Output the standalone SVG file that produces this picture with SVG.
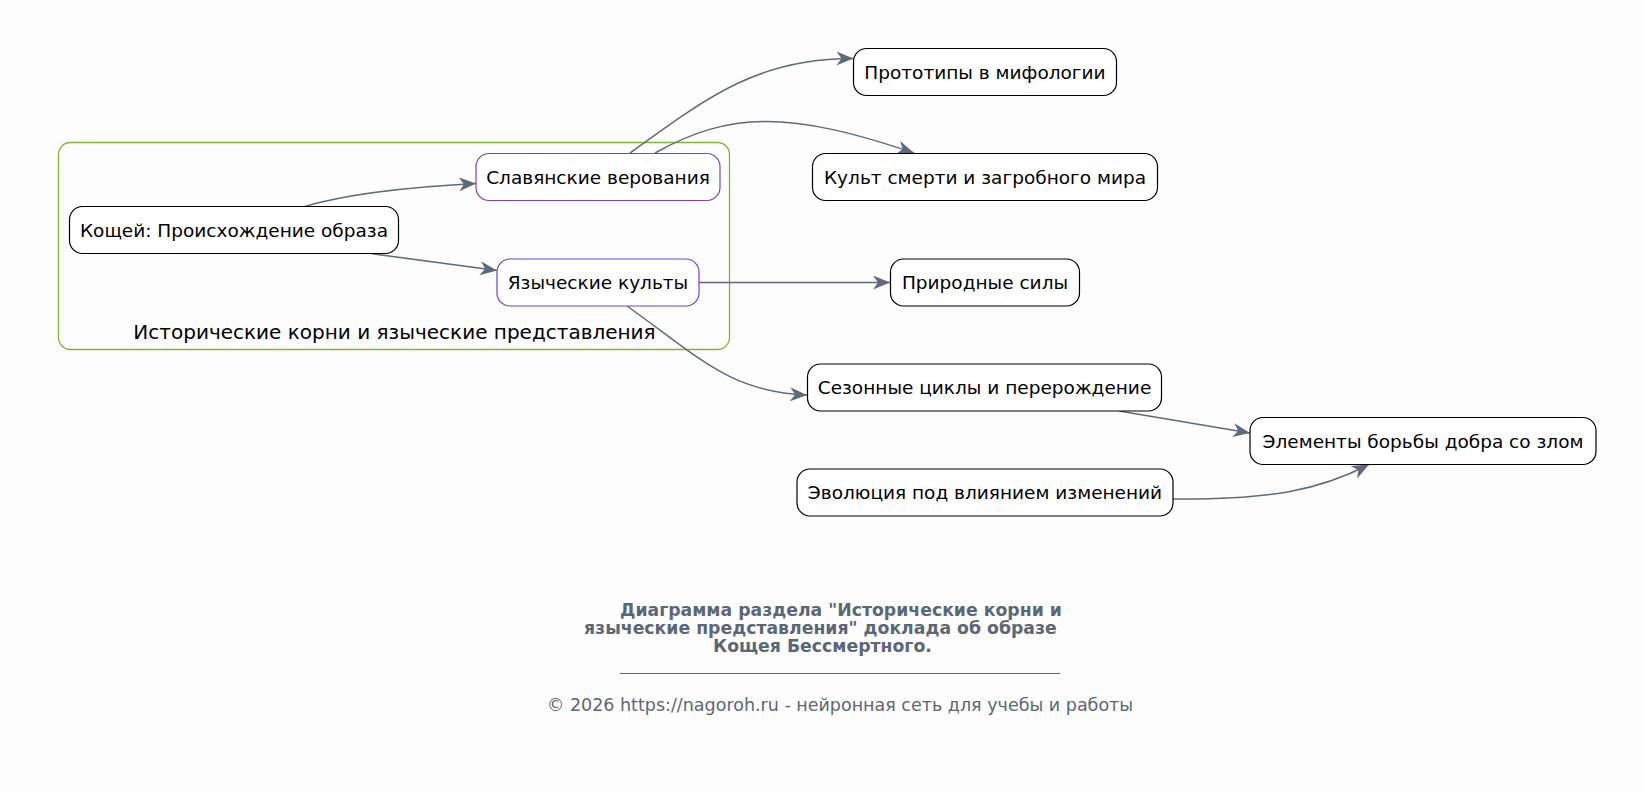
<svg xmlns="http://www.w3.org/2000/svg" width="1644" height="791" viewBox="0 0 1644 791">
<style>
.node rect{fill:#ffffff;stroke:#000000;stroke-width:1.2}
.node.sub rect{stroke:#7b3fc9}
.node text{font-family:"DejaVu Sans",sans-serif;font-size:18.5px;fill:#000000;text-anchor:middle}
.cl text{font-family:"DejaVu Sans",sans-serif;font-size:20px;fill:#000000;text-anchor:middle}
.edges path{fill:none;stroke:#5c6b7b;stroke-width:1.5;marker-end:url(#arr)}
.title{font-family:"DejaVu Sans",sans-serif;font-size:17.3px;font-weight:bold;fill:#5a6777}
.foot{font-family:"DejaVu Sans",sans-serif;font-size:17.5px;fill:#5a6777;text-anchor:middle}
</style>
<defs>
<marker id="arr" viewBox="0 0 18 14" refX="17" refY="7" markerWidth="18" markerHeight="14" markerUnits="userSpaceOnUse" orient="auto">
<path d="M0,0 L17,7 L0,14 L5,7 Z" fill="#5c6b7b"/>
</marker>
</defs>
<rect width="1644" height="791" fill="#fdfdfd"/>
<g id="cluster" class="cl">
<rect x="58.5" y="142.5" width="671" height="207" rx="12" fill="none" stroke="#82b536" stroke-width="1.3"/>
<text x="394.5" y="338.5">Исторические корни и языческие представления</text>
</g>
<g id="edges" class="edges">
<path d="M304,206.6 C340,196 390,188 476,183.5"/>
<path d="M372,253.7 L497,270.5"/>
<path d="M630,153 C710,95 760,58 853.5,58.5"/>
<path d="M655,153 C730,111 790,111 914,153"/>
<path d="M699,282.5 L890,282.5"/>
<path d="M627,306 C700,358 730,392 807,395"/>
<path d="M1119,411 L1250,433"/>
<path d="M1173,499 C1270,500 1320,490 1369,464.5"/>
</g>
<g id="n_koschei" class="node">
<rect x="69.5" y="206.5" width="329" height="47" rx="13"/>
<text x="234" y="236.5">Кощей: Происхождение образа</text>
</g>
<g id="n_slav" class="node sub">
<rect x="476" y="153.5" width="244" height="47" rx="13"/>
<text x="598" y="183.5">Славянские верования</text>
</g>
<g id="n_yaz" class="node sub">
<rect x="497" y="259" width="202" height="47" rx="13"/>
<text x="598" y="289">Языческие культы</text>
</g>
<g id="n_proto" class="node">
<rect x="853.5" y="48.5" width="263" height="47" rx="13"/>
<text x="985" y="78.5">Прототипы в мифологии</text>
</g>
<g id="n_kult" class="node">
<rect x="812.5" y="153.5" width="345" height="47" rx="13"/>
<text x="985" y="183.5">Культ смерти и загробного мира</text>
</g>
<g id="n_prir" class="node">
<rect x="890.5" y="259" width="189" height="47" rx="13"/>
<text x="985" y="289">Природные силы</text>
</g>
<g id="n_sez" class="node">
<rect x="807.5" y="364" width="354" height="47" rx="13"/>
<text x="984.5" y="394">Сезонные циклы и перерождение</text>
</g>
<g id="n_elem" class="node">
<rect x="1250" y="417.5" width="346" height="47" rx="13"/>
<text x="1423" y="447.5">Элементы борьбы добра со злом</text>
</g>
<g id="n_evol" class="node">
<rect x="797" y="469" width="376" height="47" rx="13"/>
<text x="985" y="499">Эволюция под влиянием изменений</text>
</g>
<g id="caption">
<text class="title" x="620" y="615.5">Диаграмма раздела "Исторические корни и</text>
<text class="title" x="584" y="633.5">языческие представления" доклада об образе</text>
<text class="title" x="713" y="651.5">Кощея Бессмертного.</text>
<line x1="620" y1="673.5" x2="1060" y2="673.5" stroke="#5a6777" stroke-width="1"/>
<text class="foot" x="840" y="711">© 2026 https://nagoroh.ru - нейронная сеть для учебы и работы</text>
</g>
</svg>
